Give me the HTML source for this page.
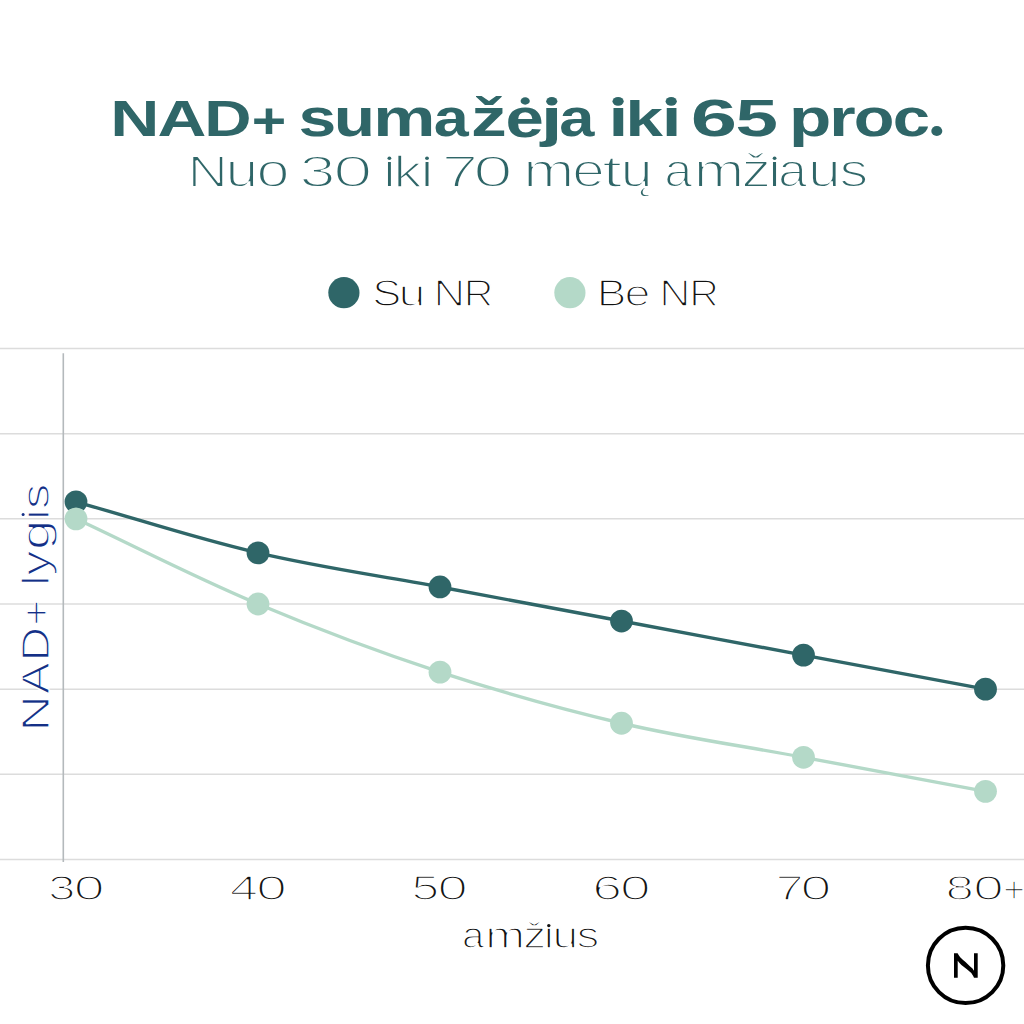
<!DOCTYPE html>
<html><head><meta charset="utf-8"><style>
html,body{margin:0;padding:0;background:#fff;}
svg{display:block;}
text{font-family:"Liberation Sans",sans-serif;}
</style></head><body>
<svg width="1024" height="1024" viewBox="0 0 1024 1024">
<rect width="1024" height="1024" fill="#fff"/>
<text transform="translate(110.35,136.20) scale(1.3608,1)" font-size="50" font-weight="bold" fill="#2f6668">N</text>
<text transform="translate(157.61,136.20) scale(1.3534,1)" font-size="50" font-weight="bold" fill="#2f6668">A</text>
<text transform="translate(204.32,136.20) scale(1.3110,1)" font-size="50" font-weight="bold" fill="#2f6668">D</text>
<text transform="translate(251.82,138.20) scale(1.1805,1)" font-size="50" font-weight="bold" fill="#2f6668">+</text>
<text transform="translate(298.61,136.20) scale(1.2695,1)" font-size="53.5" font-weight="bold" fill="#2f6668">s</text>
<text transform="translate(333.80,136.20) scale(1.2657,1)" font-size="53.5" font-weight="bold" fill="#2f6668">u</text>
<text transform="translate(373.19,136.20) scale(1.3063,1)" font-size="53.5" font-weight="bold" fill="#2f6668">m</text>
<text transform="translate(433.76,136.20) scale(1.1744,1)" font-size="53.5" font-weight="bold" fill="#2f6668">a</text>
<text transform="translate(471.04,136.20) scale(1.3363,1)" font-size="53.5" font-weight="bold" fill="#2f6668">ž</text>
<text transform="translate(505.41,136.70) scale(1.2889,1.04)" font-size="53.5" font-weight="bold" fill="#2f6668">e</text>
<text transform="translate(540.73,136.20) scale(1.4659,1)" font-size="53.5" font-weight="bold" fill="#2f6668">ȷ</text>
<text transform="translate(559.35,136.20) scale(1.1814,1)" font-size="53.5" font-weight="bold" fill="#2f6668">a</text>
<text transform="translate(608.49,136.20) scale(1.3214,1)" font-size="53.5" font-weight="bold" fill="#2f6668">ı</text>
<text transform="translate(625.50,136.20) scale(1.2581,0.92)" font-size="53.5" font-weight="bold" fill="#2f6668">k</text>
<text transform="translate(661.69,136.20) scale(1.3214,1)" font-size="53.5" font-weight="bold" fill="#2f6668">ı</text>
<text transform="translate(690.85,136.20) scale(1.5993,1)" font-size="52" font-weight="bold" fill="#2f6668">6</text>
<text transform="translate(735.55,136.20) scale(1.4687,1)" font-size="52" font-weight="bold" fill="#2f6668">5</text>
<text transform="translate(789.03,136.20) scale(1.2946,1)" font-size="53.5" font-weight="bold" fill="#2f6668">p</text>
<text transform="translate(829.13,136.20) scale(1.2679,1)" font-size="53.5" font-weight="bold" fill="#2f6668">r</text>
<text transform="translate(853.70,136.20) scale(1.2456,1)" font-size="53.5" font-weight="bold" fill="#2f6668">o</text>
<text transform="translate(892.78,136.20) scale(1.2530,1)" font-size="53.5" font-weight="bold" fill="#2f6668">c</text>
<ellipse cx="525.2" cy="101" rx="4.6" ry="3.7" fill="#2f6668"/>
<ellipse cx="551.8" cy="101.3" rx="5.6" ry="4.3" fill="#2f6668"/>
<ellipse cx="618.1" cy="101.3" rx="5.6" ry="4.4" fill="#2f6668"/>
<ellipse cx="671.2" cy="101.3" rx="5.6" ry="4.4" fill="#2f6668"/>
<ellipse cx="936.8" cy="131" rx="5.5" ry="5.1" fill="#2f6668"/>
<text transform="translate(187.40,186.60) scale(1.2592,1)" font-size="44.5" fill="#2f6668" stroke="#fff" stroke-width="1.8">N</text>
<text transform="translate(225.58,186.60) scale(1.2390,1)" font-size="47.5" fill="#2f6668" stroke="#fff" stroke-width="1.8">u</text>
<text transform="translate(256.61,186.60) scale(1.2484,1)" font-size="47.5" fill="#2f6668" stroke="#fff" stroke-width="1.8">o</text>
<text transform="translate(299.53,186.60) scale(1.4551,1)" font-size="44.5" fill="#2f6668" stroke="#fff" stroke-width="1.8">3</text>
<text transform="translate(333.25,186.60) scale(1.5795,1)" font-size="44.5" fill="#2f6668" stroke="#fff" stroke-width="1.8">0</text>
<text transform="translate(381.20,186.60) scale(1.2456,1)" font-size="47.5" fill="#2f6668" stroke="#fff" stroke-width="1.8">ı</text>
<text transform="translate(393.61,186.60) scale(1.1834,0.93)" font-size="47.5" fill="#2f6668" stroke="#fff" stroke-width="1.8">k</text>
<text transform="translate(418.48,186.60) scale(1.2935,1)" font-size="47.5" fill="#2f6668" stroke="#fff" stroke-width="1.8">ı</text>
<text transform="translate(441.85,186.60) scale(1.4682,1)" font-size="44.5" fill="#2f6668" stroke="#fff" stroke-width="1.8">7</text>
<text transform="translate(473.34,186.60) scale(1.5889,1)" font-size="44.5" fill="#2f6668" stroke="#fff" stroke-width="1.8">0</text>
<text transform="translate(523.22,186.60) scale(1.2920,1)" font-size="47.5" fill="#2f6668" stroke="#fff" stroke-width="1.8">m</text>
<text transform="translate(572.22,186.60) scale(1.2293,1)" font-size="47.5" fill="#2f6668" stroke="#fff" stroke-width="1.8">e</text>
<text transform="translate(601.90,186.60) scale(1.5334,0.95)" font-size="47.5" fill="#2f6668" stroke="#fff" stroke-width="1.8">t</text>
<text transform="translate(620.53,186.60) scale(1.2223,1)" font-size="47.5" fill="#2f6668" stroke="#fff" stroke-width="1.8">ų</text>
<text transform="translate(664.16,186.60) scale(1.0615,1)" font-size="47.5" fill="#2f6668" stroke="#fff" stroke-width="1.8">a</text>
<text transform="translate(693.67,186.60) scale(1.2769,1)" font-size="47.5" fill="#2f6668" stroke="#fff" stroke-width="1.8">m</text>
<text transform="translate(741.41,186.60) scale(1.2436,1)" font-size="47.5" fill="#2f6668" stroke="#fff" stroke-width="1.8">ž</text>
<text transform="translate(766.08,186.60) scale(1.2935,1)" font-size="47.5" fill="#2f6668" stroke="#fff" stroke-width="1.8">ı</text>
<text transform="translate(778.08,186.60) scale(1.0984,1)" font-size="47.5" fill="#2f6668" stroke="#fff" stroke-width="1.8">a</text>
<text transform="translate(808.06,186.60) scale(1.2439,1)" font-size="47.5" fill="#2f6668" stroke="#fff" stroke-width="1.8">u</text>
<text transform="translate(839.60,186.60) scale(1.2119,1)" font-size="47.5" fill="#2f6668" stroke="#fff" stroke-width="1.8">s</text>
<ellipse cx="389.4" cy="158.3" rx="1.9" ry="1.8" fill="#2f6668"/>
<ellipse cx="427" cy="158.3" rx="1.9" ry="1.8" fill="#2f6668"/>
<ellipse cx="774.6" cy="158.3" rx="1.9" ry="1.8" fill="#2f6668"/>
<text transform="translate(372.32,305.60) scale(1.1945,1)" font-size="36.5" fill="#111111" stroke="#fff" stroke-width="1.6">S</text>
<text transform="translate(398.45,305.60) scale(1.3286,1)" font-size="36.5" fill="#111111" stroke="#fff" stroke-width="1.6">u</text>
<text transform="translate(433.50,305.60) scale(1.2016,1)" font-size="36.5" fill="#111111" stroke="#fff" stroke-width="1.6">N</text>
<text transform="translate(463.63,305.60) scale(1.1259,1)" font-size="36.5" fill="#111111" stroke="#fff" stroke-width="1.6">R</text>
<text transform="translate(596.65,305.60) scale(1.2200,1)" font-size="36.5" fill="#111111" stroke="#fff" stroke-width="1.6">B</text>
<text transform="translate(624.62,305.60) scale(1.2787,1)" font-size="36.5" fill="#111111" stroke="#fff" stroke-width="1.6">e</text>
<text transform="translate(659.25,305.60) scale(1.1869,1)" font-size="36.5" fill="#111111" stroke="#fff" stroke-width="1.6">N</text>
<text transform="translate(689.23,305.60) scale(1.1259,1)" font-size="36.5" fill="#111111" stroke="#fff" stroke-width="1.6">R</text>
<circle cx="343.9" cy="292.7" r="15.6" fill="#2f6668"/>
<circle cx="569.9" cy="292.7" r="15.6" fill="#b4d9c8"/>
<line x1="0" x2="1024" y1="348.50" y2="348.50" stroke="#dcdcdc" stroke-width="1.5"/>
<line x1="0" x2="1024" y1="433.67" y2="433.67" stroke="#dcdcdc" stroke-width="1.5"/>
<line x1="0" x2="1024" y1="518.83" y2="518.83" stroke="#dcdcdc" stroke-width="1.5"/>
<line x1="0" x2="1024" y1="604.00" y2="604.00" stroke="#dcdcdc" stroke-width="1.5"/>
<line x1="0" x2="1024" y1="689.17" y2="689.17" stroke="#dcdcdc" stroke-width="1.5"/>
<line x1="0" x2="1024" y1="774.33" y2="774.33" stroke="#dcdcdc" stroke-width="1.5"/>
<line x1="0" x2="1024" y1="859.50" y2="859.50" stroke="#dcdcdc" stroke-width="1.5"/>
<line x1="63.3" x2="63.3" y1="353.3" y2="862" stroke="#b4b9bc" stroke-width="1.6"/>
<g transform="translate(48.6,726.5) rotate(-90)">
<text transform="translate(-5.01,0.00) scale(1.3191,1)" font-size="38" fill="#142f86" stroke="#fff" stroke-width="1.3">N</text>
<text transform="translate(32.61,0.00) scale(1.2422,1)" font-size="38" fill="#142f86" stroke="#fff" stroke-width="1.3">A</text>
<text transform="translate(65.07,0.00) scale(1.2618,1)" font-size="38" fill="#142f86" stroke="#fff" stroke-width="1.3">D</text>
<text transform="translate(100.82,0.00) scale(1.1754,1)" font-size="38" fill="#142f86" stroke="#fff" stroke-width="1.3">+</text>
<text transform="translate(141.24,0.00) scale(1.0779,1)" font-size="38" fill="#142f86" stroke="#fff" stroke-width="1.3">l</text>
<text transform="translate(150.88,0.00) scale(1.3062,1)" font-size="38" fill="#142f86" stroke="#fff" stroke-width="1.3">y</text>
<text transform="translate(176.60,0.00) scale(1.4395,1)" font-size="38" fill="#142f86" stroke="#fff" stroke-width="1.3">g</text>
<text transform="translate(206.01,0.00) scale(1.1078,1)" font-size="38" fill="#142f86" stroke="#fff" stroke-width="1.3">ı</text>
<text transform="translate(217.16,0.00) scale(1.3579,1)" font-size="38" fill="#142f86" stroke="#fff" stroke-width="1.3">s</text>
</g>
<ellipse cx="23.1" cy="514.6" rx="1.5" ry="1.5" fill="#142f86"/>
<path d="M76.00,501.80 C139.70,519.68 193.64,537.84 258.00,552.90 C321.04,567.65 376.30,575.03 440.00,586.97 C503.53,598.87 557.97,609.13 621.50,621.03 C685.20,632.97 739.80,643.18 803.50,655.10 C867.20,667.02 921.80,677.24 985.50,689.17" fill="none" stroke="#2f6668" stroke-width="3.4"/>
<circle cx="76.00" cy="501.80" r="11.4" fill="#2f6668"/>
<circle cx="258.00" cy="552.90" r="11.4" fill="#2f6668"/>
<circle cx="440.00" cy="586.97" r="11.4" fill="#2f6668"/>
<circle cx="621.50" cy="621.03" r="11.4" fill="#2f6668"/>
<circle cx="803.50" cy="655.10" r="11.4" fill="#2f6668"/>
<circle cx="985.50" cy="689.17" r="11.4" fill="#2f6668"/>
<path d="M76.00,518.83 C139.70,548.64 193.24,576.72 258.00,604.00 C320.64,630.38 375.43,650.95 440.00,672.13 C502.65,692.68 557.31,708.19 621.50,723.23 C684.53,738.00 739.80,745.38 803.50,757.30 C867.20,769.22 921.80,779.44 985.50,791.37" fill="none" stroke="#b4d9c8" stroke-width="3.4"/>
<circle cx="76.00" cy="518.83" r="11.4" fill="#b4d9c8"/>
<circle cx="258.00" cy="604.00" r="11.4" fill="#b4d9c8"/>
<circle cx="440.00" cy="672.13" r="11.4" fill="#b4d9c8"/>
<circle cx="621.50" cy="723.23" r="11.4" fill="#b4d9c8"/>
<circle cx="803.50" cy="757.30" r="11.4" fill="#b4d9c8"/>
<circle cx="985.50" cy="791.37" r="11.4" fill="#b4d9c8"/>
<text transform="translate(47.92,900.30) scale(1.4101,1)" font-size="35" fill="#111111" stroke="#fff" stroke-width="1.6">3</text>
<text transform="translate(73.73,900.30) scale(1.5839,1)" font-size="35" fill="#111111" stroke="#fff" stroke-width="1.6">0</text>
<text transform="translate(229.73,900.30) scale(1.4572,1)" font-size="35" fill="#111111" stroke="#fff" stroke-width="1.6">4</text>
<text transform="translate(256.35,900.30) scale(1.5719,1)" font-size="35" fill="#111111" stroke="#fff" stroke-width="1.6">0</text>
<text transform="translate(411.51,900.30) scale(1.4222,1)" font-size="35" fill="#111111" stroke="#fff" stroke-width="1.6">5</text>
<text transform="translate(437.48,900.30) scale(1.5540,1)" font-size="35" fill="#111111" stroke="#fff" stroke-width="1.6">0</text>
<text transform="translate(592.18,900.30) scale(1.5294,1)" font-size="35" fill="#111111" stroke="#fff" stroke-width="1.6">6</text>
<text transform="translate(620.05,900.30) scale(1.5719,1)" font-size="35" fill="#111111" stroke="#fff" stroke-width="1.6">0</text>
<text transform="translate(775.61,900.30) scale(1.4456,1)" font-size="35" fill="#111111" stroke="#fff" stroke-width="1.6">7</text>
<text transform="translate(800.53,900.30) scale(1.5839,1)" font-size="35" fill="#111111" stroke="#fff" stroke-width="1.6">0</text>
<text transform="translate(945.58,900.30) scale(1.4613,1)" font-size="35" fill="#111111" stroke="#fff" stroke-width="1.6">8</text>
<text transform="translate(973.16,900.30) scale(1.5660,1)" font-size="35" fill="#111111" stroke="#fff" stroke-width="1.6">0</text>
<text transform="translate(1002.95,901.80) scale(1.0821,1.05)" font-size="35" fill="#111111" stroke="#fff" stroke-width="1.6">+</text>
<text transform="translate(462.10,947.60) scale(1.0694,1)" font-size="37.5" fill="#111111" stroke="#fff" stroke-width="1.6">a</text>
<text transform="translate(485.13,947.60) scale(1.2749,1)" font-size="37.5" fill="#111111" stroke="#fff" stroke-width="1.6">m</text>
<text transform="translate(523.14,947.60) scale(1.2238,1)" font-size="37.5" fill="#111111" stroke="#fff" stroke-width="1.6">ž</text>
<text transform="translate(542.49,947.60) scale(1.2136,1)" font-size="37.5" fill="#111111" stroke="#fff" stroke-width="1.6">ı</text>
<text transform="translate(552.40,947.60) scale(1.2304,1)" font-size="37.5" fill="#111111" stroke="#fff" stroke-width="1.6">u</text>
<text transform="translate(576.85,947.60) scale(1.1987,1)" font-size="37.5" fill="#111111" stroke="#fff" stroke-width="1.6">s</text>
<ellipse cx="548.8" cy="925.6" rx="1.7" ry="1.6" fill="#111111"/>
<circle cx="965.6" cy="965.4" r="37.7" fill="none" stroke="#000" stroke-width="4.0"/>
<path d="M954,953.3 L957.6,953.3 L958.6,954.9 L960.2,957.3 L962.8,959.7 L965.5,961.95 L970.15,966.6 L972.5,968.6 L974,970.7 V953.3 H977.7 V977.7 L974,977.7 L973.2,976.0 L971.3,973.1 L966.6,969 L961.4,964.9 L959.3,962.7 L957.7,960.8 V977.7 H954 Z" fill="#000"/>
</svg>
</body></html>
